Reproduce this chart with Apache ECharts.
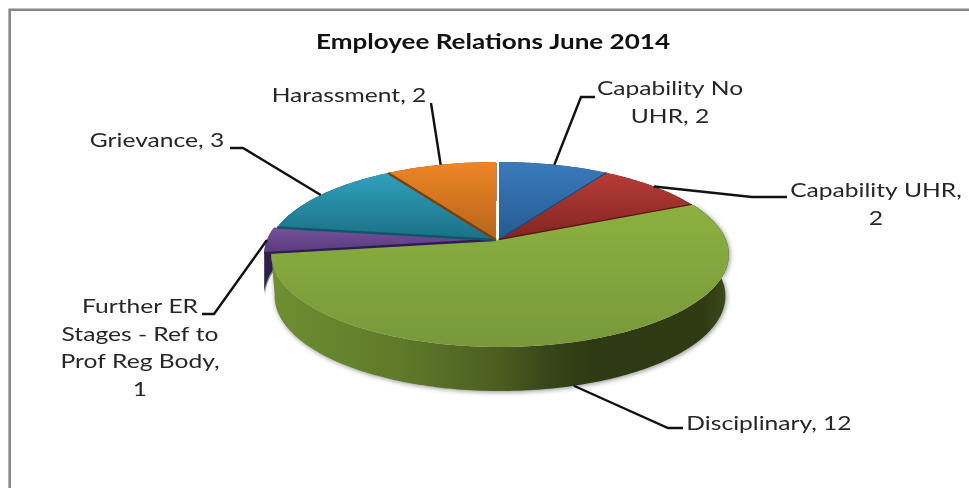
<!DOCTYPE html>
<html>
<head>
<meta charset="utf-8">
<title>Employee Relations June 2014</title>
<script src="https://cdn.jsdelivr.net/npm/echarts@6/dist/echarts.min.js"></script>
<style>html,body{margin:0;padding:0;background:#fff}#chart{width:969px;height:488px}</style>
</head>
<body>
<div id="chart"></div>
<script>
// Case counts by category, clockwise from twelve o'clock
const categories = ['Capability No UHR', 'Capability UHR', 'Disciplinary',
  'Further ER Stages - Ref to Prof Reg Body', 'Grievance', 'Harassment'];
const cases = [2, 2, 12, 1, 3, 2];
const chartTitle = 'Employee Relations June 2014';

// Slice paint: face gradient (far to near), lower rim, side wall
const faceTop = ['#3a7abb', '#b83c38', '#8cb140', '#75519c', '#30a0bd', '#ee8526'];
const faceBottom = ['#255a92', '#80251f', '#78983a', '#583a7c', '#1a7085', '#b5651b'];
const rimColors = ['#1d4775', '#5a1512', null, '#2e1d4f', '#125666', '#7a3f0e'];
const wallColors = ['#1f3f66', '#5a1a16', null, '#2f1d4e', '#0f4a5a', '#7a400f'];
const sliceShift = [2, 2, 3, -4, -1, -1];
const wallTaper = [0.985, 0.985, 0.985, 1, 0.985, 0.985];

// Label placement: text centre, first row, wrap length, leader knee points
const labelLayout = [
  { x: 670, y: 87, wrap: 15, knees: [[581, 97], [595, 97]] },
  { x: 876, y: 189, wrap: 15, knees: [[752, 197], [787, 197]] },
  { x: 769, y: 422, wrap: 20, knees: [[668, 428], [683, 428]], onWall: true },
  { x: 140, y: 305, wrap: 15, knees: [[214, 314], [202, 314]] },
  { x: 157, y: 139, wrap: 15, knees: [[243, 148], [230, 148]] },
  { x: 349, y: 94, wrap: 15, knees: [[431, 103]] }
];
const labelStretch = 1.23;
const titleStretch = 1.24;

// Tilted disc: a projective view of a circle, so the near half reads larger
const disc = { cx: 497, cy: 240, a: 226, b: 90.2, k: 0.157, depth: 41, depthGain: 3 };
const total = cases.reduce((s, v) => s + v, 0);
const rad = d => (90 - d) * Math.PI / 180;   // clockwise degrees from the top to math radians

function project(deg, shift) {
  const t = rad(deg), w = 1 + disc.k * Math.sin(t);
  return [disc.cx + shift + disc.a * Math.cos(t) / w, disc.cy - disc.b * Math.sin(t) / w];
}
function baseProjector(taper) {
  return (deg, shift) => {
    const p = project(deg, shift);
    return [disc.cx + shift + (p[0] - disc.cx - shift) * taper,
      p[1] + disc.depth - disc.depthGain * Math.sin(rad(deg))];
  };
}
function sweep(i) {
  const before = cases.slice(0, i).reduce((s, v) => s + v, 0);
  return [before / total * 360, (before + cases[i]) / total * 360];
}
function arc(from, to, fn, shift) {
  const pts = [], n = Math.max(2, Math.ceil(to - from));
  for (let j = 0; j <= n; j++) pts.push(fn(from + (to - from) * j / n, shift));
  return pts;
}
function wrapText(text, limit) {
  const lines = [];
  let cur = '';
  text.split(' ').forEach(word => {
    const next = cur ? cur + ' ' + word : word;
    if (next.length > limit && cur) { lines.push(cur); cur = word; } else cur = next;
  });
  lines.push(cur);
  return lines.join('\n');
}
const vertical = (a, b) => new echarts.graphic.LinearGradient(0, 0, 0, 1, [
  { offset: 0, color: a }, { offset: 1, color: b }]);
const greenWall = new echarts.graphic.LinearGradient(0, 0, 1, 0, [
  { offset: 0, color: '#6f8f30' }, { offset: 0.28, color: '#5f7a2a' },
  { offset: 0.5, color: '#4a5d20' }, { offset: 0.6, color: '#37461a' },
  { offset: 0.7, color: '#2e3a13' }, { offset: 0.94, color: '#2f3a13' },
  { offset: 1, color: '#3c4a1b' }]);

function renderWall(params) {
  const i = params.dataIndex, [s, e] = sweep(i), shift = sliceShift[i];
  const mid = (s + e) / 2;
  const base = baseProjector(wallTaper[i]);
  const pts = arc(s, e, project, shift).concat(arc(s, e, base, shift).reverse());
  return {
    type: 'polygon', z2: Math.round(100 - 100 * Math.sin(rad(mid))),
    shape: { points: pts },
    style: {
      fill: wallColors[i] || greenWall,
      shadowBlur: wallColors[i] ? 0 : 5, shadowColor: 'rgba(0,0,0,0.45)', shadowOffsetX: 1, shadowOffsetY: 1
    }
  };
}
function renderFace(params) {
  const i = params.dataIndex, [s, e] = sweep(i), shift = sliceShift[i];
  const apex = [disc.cx + shift, disc.cy];
  const children = [{
    type: 'polygon',
    shape: { points: [apex].concat(arc(s, e, project, shift)) },
    style: { fill: vertical(faceTop[i], faceBottom[i]) }
  }];
  if (rimColors[i]) {
    const lowerEdge = s >= 180 ? s : e;
    children.push({
      type: 'polyline',
      shape: { points: [apex, project(lowerEdge, shift)] },
      style: { fill: null, stroke: rimColors[i], lineWidth: 2.4 }
    });
  }
  return { type: 'group', children };
}
function renderLabel(params) {
  const i = params.dataIndex, [s, e] = sweep(i), lay = labelLayout[i];
  const from = (lay.onWall ? baseProjector(wallTaper[i]) : project)((s + e) / 2, sliceShift[i]);
  const text = wrapText(categories[i] + ', ' + cases[i], lay.wrap);
  return {
    type: 'group',
    children: [
      {
        type: 'polyline',
        shape: { points: [from].concat(lay.knees) },
        style: { fill: null, stroke: '#111', lineWidth: 2.4 }
      },
      {
        type: 'text', x: lay.x, y: lay.y - 12, scaleX: labelStretch,
        style: {
          text, fill: '#262626', align: 'center', verticalAlign: 'top',
          font: '20px Lato', lineHeight: 27.5
        }
      }
    ]
  };
}

const chart = echarts.init(document.getElementById('chart'), null, { renderer: 'canvas' });
chart.setOption({
  animation: false,
  backgroundColor: '#fff',
  graphic: [
    {
      type: 'polyline', silent: true,
      shape: { points: [[9.7, 490], [9.7, 9.7], [971, 9.7]] },
      style: { fill: null, stroke: '#858585', lineWidth: 2.6 }
    },
    {
      type: 'text', silent: true, x: 493, y: 32, scaleX: titleStretch,
      style: {
        text: chartTitle, fill: '#111', align: 'center', verticalAlign: 'top',
        font: 'bold 21px Lato'
      }
    }
  ],
  series: [
    { type: 'custom', coordinateSystem: 'none', z: 1, renderItem: renderWall, data: cases },
    { type: 'custom', coordinateSystem: 'none', z: 2, renderItem: renderFace, data: cases },
    { type: 'custom', coordinateSystem: 'none', z: 3, renderItem: renderLabel, data: cases }
  ]
});
</script>
</body>
</html>
